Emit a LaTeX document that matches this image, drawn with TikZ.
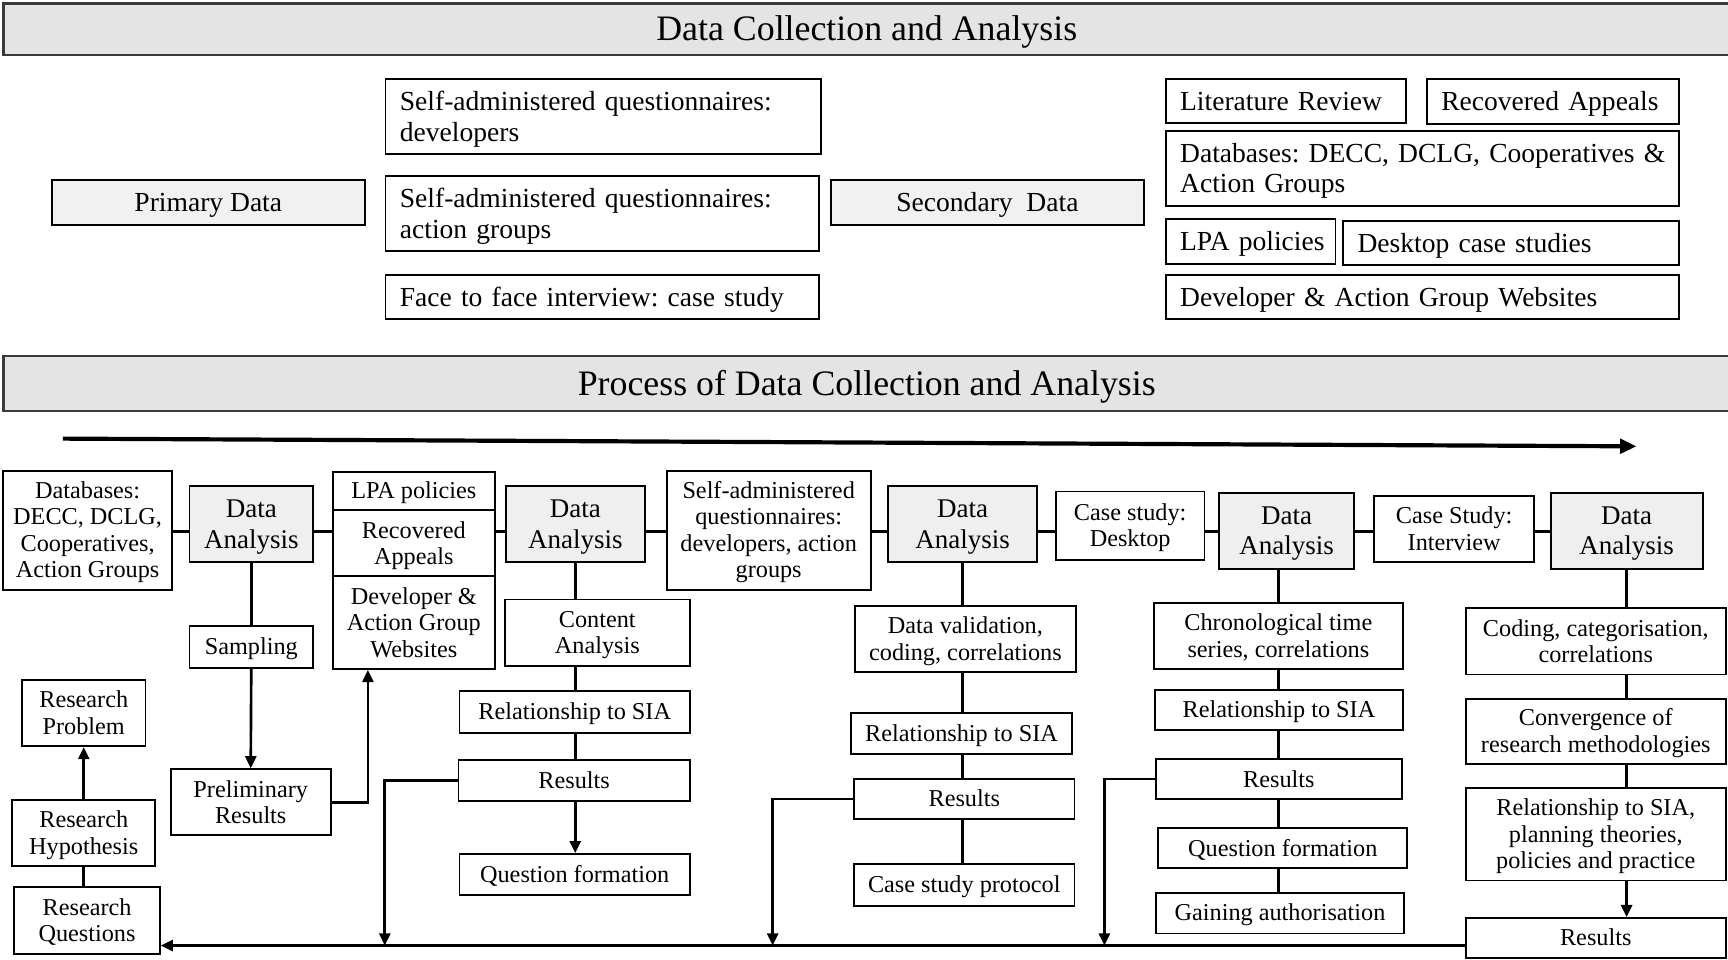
\documentclass[tikz,border=0pt]{standalone}
\usepackage{fontspec}
\setmainfont{Liberation Serif}
\usetikzlibrary{arrows.meta}

\definecolor{hdrfill}{HTML}{E4E4E4}
\definecolor{hdrline}{HTML}{3A3A3A}
\definecolor{softfill}{HTML}{F1F1F1}
\definecolor{dafill}{HTML}{EFEFEF}

\newcommand\fTop{\fontsize{25}{28}\selectfont}
\newcommand\fBot{\fontsize{22}{24}\selectfont}
\newcommand\fDA{\fontsize{24.5}{28}\selectfont}
\newcommand\fHdr{\fontsize{32.5}{36}\selectfont}

% uniform line strut, so every line sits at the same place whatever its letters
\newcommand\sst{\rule[-0.21em]{0pt}{1.08em}}
\newcommand\nl{\\\sst}

% centred box given by its corners: [style]{name}{x1}{y1}{x2}{y2}{text}
\newcommand\mkbox[7][]{%
  \pgfmathsetmacro\bxw{#5-#3}\pgfmathsetmacro\bxh{#6-#4}%
  \pgfmathsetmacro\bxcx{(#3+#5)/2}\pgfmathsetmacro\bxcy{(#4+#6)/2}%
  \node[cbx,#1,minimum width=\bxw pt,minimum height=\bxh pt] (#2) at (\bxcx,\bxcy) {\sst #7};}
% left-aligned box given by its corners: {name}{x1}{y1}{x2}{y2}{text}
\newcommand\mkleft[6]{%
  \pgfmathsetmacro\bxh{#5-#3}\pgfmathsetmacro\bxt{#4-#2-26}%
  \node[lbx,text width=\bxt pt,minimum height=\bxh pt,anchor=north west] (#1) at (#2,#3) {\sst #6};}

\begin{document}
\frenchspacing
\begin{tikzpicture}[x=1pt,y=-1pt,
  cbx/.style={draw=black,line width=1.7pt,fill=white,inner sep=0pt,align=center,font=\fBot},
  lbx/.style={draw=black,line width=1.7pt,fill=white,inner xsep=13pt,inner ysep=0pt,align=left,font=\fTop},
  hdr/.style={draw=hdrline,line width=2.2pt,fill=hdrfill,font=\fHdr},
  soft/.style={fill=softfill,font=\fTop},
  da/.style={fill=dafill,font=\fDA},
  conn/.style={line width=2.4pt},
  arr/.style={conn,-{Triangle[length=11pt,width=10pt]}},
]
\useasboundingbox (0,0) rectangle (1568,871);
\clip (0,0) rectangle (1568,871);

% ---------- overview of data sources ----------
\mkbox[hdr]{H1}{3}{3}{1570}{50}{Data Collection and Analysis}

\mkbox[soft]{PD}{47}{163}{331}{204}{Primary Data}
\mkleft{Q1}{349}{71}{744}{139}{\mbox{Self-administered questionnaires:}\nl developers}
\mkleft{Q2}{349}{159}{742}{227}{\mbox{Self-administered questionnaires:}\nl action groups}
\mkleft{FF}{349}{249}{742}{289}{\mbox{Face to face interview: case study}}

\mkbox[soft]{SD}{754}{163}{1038}{204}{Secondary~~Data}
\mkleft{LR}{1057}{71}{1275}{111}{\mbox{Literature Review}}
\mkleft{RA}{1294}{71}{1523}{112}{\mbox{Recovered Appeals}}
\mkleft{DBS}{1057}{118}{1523}{186}{\mbox{Databases: DECC, DCLG, Cooperatives \&}\nl Action Groups}
\mkleft{LP}{1057}{198}{1211}{239}{\mbox{LPA policies}}
\mkleft{DC}{1218}{200}{1523}{240}{\mbox{Desktop case studies}}
\mkleft{WS}{1057}{249}{1523}{289}{\mbox{Developer \& Action Group Websites}}

% ---------- process ----------
\mkbox[hdr]{H2}{3}{323}{1570}{373}{Process of Data Collection and Analysis}

\coordinate (t0) at (57,398);
\coordinate (t1) at (1485,405);
\draw[line width=3.8pt,-{Triangle[length=15pt,width=13pt]}] (t0) -- (t1);

% top row
\mkbox{DB}{3}{427}{156}{535}{Databases:\nl DECC, DCLG,\nl Cooperatives,\nl Action Groups}
\mkbox[da]{DA1}{172}{441}{284}{510}{Data\nl Analysis}
\mkbox{G1}{302}{428}{449}{463}{LPA policies}
\mkbox{G2}{302}{463}{449}{523}{Recovered\nl Appeals}
\mkbox{G3}{302}{523}{449}{607}{Developer \&\nl Action Group\nl Websites}
\mkbox[da]{DA2}{459}{441}{585}{510}{Data\nl Analysis}
\mkbox{SQ}{605}{427}{790}{535}{Self-administered\nl questionnaires:\nl developers, action\nl groups}
\mkbox[da]{DA3}{806}{441}{941}{510}{Data\nl Analysis}
\mkbox{CD}{958}{446}{1093}{508}{Case study:\nl Desktop}
\mkbox[da]{DA4}{1106}{447}{1229}{516}{Data\nl Analysis}
\mkbox{CI}{1247}{450}{1392}{510}{Case Study:\nl Interview}
\mkbox[da]{DA5}{1407}{447}{1545}{516}{Data\nl Analysis}

% first column and research framing
\mkbox{SM}{172}{568}{284}{606}{Sampling}
\mkbox{PR}{155}{698}{300}{758}{Preliminary\nl Results}
\mkbox{RP}{20}{617}{132}{677}{Research\nl Problem}
\mkbox{RH}{11}{726}{141}{786}{Research\nl Hypothesis}
\mkbox{RQ}{13}{805}{145}{866}{Research\nl Questions}

% second column
\mkbox{CA}{458}{544}{626}{604}{Content\nl Analysis}
\mkbox{S2}{417}{627}{626}{665}{Relationship to SIA}
\mkbox{R2}{416}{690}{626}{727}{Results}
\mkbox{QF2}{417}{775}{626}{812}{Question formation}

% third column
\mkbox{DV}{776}{550}{976}{610}{Data validation,\nl coding, correlations}
\mkbox{S3}{772}{647}{973}{684}{Relationship to SIA}
\mkbox{R3}{775}{707}{975}{743}{Results}
\mkbox{CP}{775}{784}{975}{822}{Case study protocol}

% fourth column
\mkbox{CH}{1047}{547}{1273}{607}{Chronological time\nl series, correlations}
\mkbox{S4}{1048}{626}{1273}{662}{Relationship to SIA}
\mkbox{R4}{1049}{689}{1272}{725}{Results}
\mkbox{QF4}{1051}{751}{1277}{788}{Question formation}
\mkbox{GA}{1049}{810}{1274}{847}{Gaining authorisation}

% fifth column
\mkbox{CO}{1330}{552}{1566}{612}{Coding, categorisation,\nl correlations}
\mkbox{CV}{1330}{634}{1566}{693}{Convergence of\nl research methodologies}
\mkbox{RS}{1330}{715}{1566}{799}{Relationship to SIA,\nl planning theories,\nl policies and practice}
\mkbox{R5}{1330}{833}{1566}{869}{Results}

% ---------- connectors ----------
\coordinate (row) at (0,482);
\draw[conn] (DB.east |- row) -- (DA1.west |- row);
\draw[conn] (DA1.east |- row) -- (G2.west |- row);
\draw[conn] (G2.east |- row) -- (DA2.west |- row);
\draw[conn] (DA2.east |- row) -- (SQ.west |- row);
\draw[conn] (SQ.east |- row) -- (DA3.west |- row);
\draw[conn] (DA3.east |- row) -- (CD.west |- row);
\draw[conn] (CD.east |- row) -- (DA4.west |- row);
\draw[conn] (DA4.east |- row) -- (CI.west |- row);
\draw[conn] (CI.east |- row) -- (DA5.west |- row);

% column 1
\draw[conn] (DA1.south) -- (SM.north);
\draw[arr] (SM.south) -- (PR.north);
\draw[arr] (PR.east) -- ([xshift=33pt]PR.east) -- ([xshift=33pt]PR.east |- G3.south);
\draw[arr] (RH.north) -- (RH.north |- RP.south);
\draw[conn] (RH.south) -- (RH.south |- RQ.north);

% column 2
\draw[conn] (DA2.south) -- (DA2.south |- CA.north);
\draw[conn] (DA2.south |- CA.south) -- (DA2.south |- S2.north);
\draw[conn] (DA2.south |- S2.south) -- (DA2.south |- R2.north);
\draw[arr] (DA2.south |- R2.south) -- (DA2.south |- QF2.north);

% column 3
\draw[conn] (DA3.south) -- (DA3.south |- DV.north);
\draw[conn] (DA3.south |- DV.south) -- (DA3.south |- S3.north);
\draw[conn] (DA3.south |- S3.south) -- (DA3.south |- R3.north);
\draw[conn] (DA3.south |- R3.south) -- (DA3.south |- CP.north);

% column 4
\draw[conn] (CH.north |- DA4.south) -- (CH.north);
\draw[conn] (CH.south) -- (CH.south |- S4.north);
\draw[conn] (CH.south |- S4.south) -- (CH.south |- R4.north);
\draw[conn] (CH.south |- R4.south) -- (CH.south |- QF4.north);
\draw[conn] (CH.south |- QF4.south) -- (CH.south |- GA.north);

% column 5
\draw[conn] (DA5.south) -- (DA5.south |- CO.north);
\draw[conn] (DA5.south |- CO.south) -- (DA5.south |- CV.north);
\draw[conn] (DA5.south |- CV.south) -- (DA5.south |- RS.north);
\draw[arr] (DA5.south |- RS.south) -- (DA5.south |- R5.north);

% feedback line back to the research questions
\coordinate (base) at ([yshift=-7pt]R5.west);
\draw[arr] (base) -- (base -| RQ.east);
\draw[arr] (R2.west) -- ([xshift=-66pt]R2.west) -- ([xshift=-66pt]R2.west |- base);
\draw[arr] (R3.west) -- ([xshift=-73pt]R3.west) -- ([xshift=-73pt]R3.west |- base);
\draw[arr] (R4.west) -- ([xshift=-46pt]R4.west) -- ([xshift=-46pt]R4.west |- base);
\end{tikzpicture}
\end{document}
